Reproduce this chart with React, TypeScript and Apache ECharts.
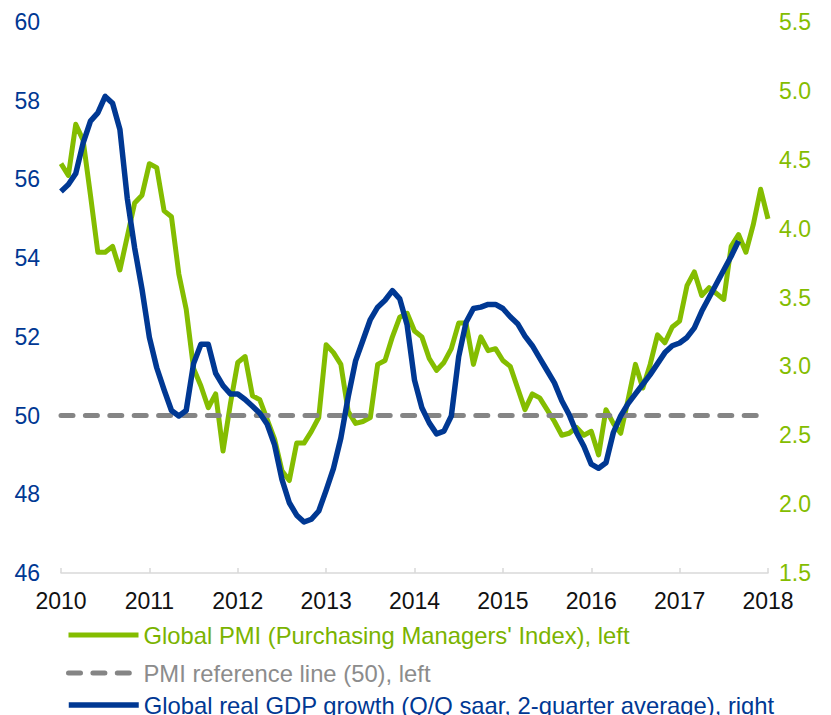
import React, { useEffect, useRef } from "react";
import * as echarts from "echarts";

// Monthly data, Jan 2010 onwards
const START_YEAR = 2010;
const PMI: number[] = [
  56.4, 56.1, 57.4, 57.0, 55.6, 54.15, 54.15, 54.3, 53.7, 54.55, 55.4, 55.6,
  56.4, 56.3, 55.2, 55.05, 53.6, 52.7, 51.2, 50.75, 50.2, 50.55, 49.1, 50.3,
  51.35, 51.5, 50.5, 50.4, 49.9, 49.4, 48.6, 48.35, 49.3, 49.3, 49.6, 49.95,
  51.8, 51.6, 51.3, 50.1, 49.8, 49.85, 49.95, 51.3, 51.4, 52.0, 52.5, 52.6,
  52.15, 52.0, 51.45, 51.15, 51.35, 51.7, 52.35, 52.35, 51.3, 52.0, 51.65, 51.7,
  51.4, 51.25, 50.7, 50.15, 50.55, 50.45, 50.15, 49.85, 49.5, 49.55, 49.7, 49.5,
  49.6, 49.0, 50.15, 49.8, 49.55, 50.4, 51.3, 50.7, 51.3, 52.05, 51.85, 52.25,
  52.4, 53.3, 53.65, 53.05, 53.25, 53.1, 52.95, 54.3, 54.6, 54.15, 54.85, 55.75,
  55.0,
];
const GDP: number[] = [
  4.27, 4.32, 4.4, 4.62, 4.78, 4.84, 4.96, 4.91, 4.72, 4.22, 3.86, 3.56,
  3.21, 2.99, 2.83, 2.68, 2.64, 2.68, 3.02, 3.16, 3.16, 2.95, 2.86, 2.8,
  2.8, 2.76, 2.71, 2.66, 2.58, 2.43, 2.18, 2.01, 1.92, 1.87, 1.89, 1.95,
  2.1, 2.26, 2.48, 2.78, 3.04, 3.19, 3.34, 3.43, 3.48, 3.55, 3.49, 3.3,
  2.9, 2.7, 2.59, 2.51, 2.53, 2.64, 3.07, 3.32, 3.42, 3.43, 3.45, 3.45,
  3.42, 3.36, 3.31, 3.22, 3.15, 3.06, 2.97, 2.88, 2.75, 2.65, 2.52, 2.42,
  2.29, 2.26, 2.3, 2.52, 2.64, 2.73, 2.8, 2.87, 2.94, 3.02, 3.1, 3.15,
  3.17, 3.21, 3.28, 3.4, 3.5, 3.6, 3.7, 3.8, 3.91,
];
const REF_LINE: number[] = [50, 50];
const REF_X: number[] = [2010, 2018];

const NAME_PMI = "Global PMI (Purchasing Managers' Index), left";
const NAME_REF = "PMI reference line (50), left";
const NAME_GDP = "Global real GDP growth (Q/Q saar, 2-quarter average), right";

const GREEN = "#84bd00";
const BLUE = "#003893";
const GRAY = "#858585";
const FONT = "'Liberation Sans', Arial, sans-serif";

export default function App() {
  const ref = useRef<HTMLDivElement>(null);
  useEffect(() => {
    document.body.style.margin = "0";
    if (!ref.current) return;
    const chart = echarts.init(ref.current, undefined, { renderer: "svg" });
    const monthX = (i: number) => START_YEAR + i / 12;
    const legendBase = {
      orient: "vertical" as const,
      left: 61,
      itemWidth: 70,
      itemHeight: 14,
      lineStyle: { width: "inherit" },
      itemStyle: { opacity: 0 },
      textStyle: { fontSize: 23.8, fontFamily: FONT },
      selectedMode: false,
    };
    chart.setOption({
      animation: false,
      textStyle: { fontFamily: FONT },
      grid: { left: 61, right: 63, top: 22, bottom: 142 },
      legend: [
        { ...legendBase, top: 618, data: [{ name: NAME_PMI, textStyle: { color: "#7ab300" } }] },
        { ...legendBase, top: 656, data: [{ name: NAME_REF, textStyle: { color: "#8c8c8c" } }] },
        { ...legendBase, top: 688, data: [{ name: NAME_GDP, textStyle: { color: BLUE } }] },
      ],
      xAxis: {
        type: "value",
        min: 2010,
        max: 2018,
        interval: 1,
        axisLine: { show: true, lineStyle: { color: "#d9d9d9", width: 1.5 } },
        axisTick: { show: true, inside: true, length: 5, lineStyle: { color: "#d9d9d9", width: 1.5 } },
        splitLine: { show: false },
        axisLabel: {
          color: "#111",
          fontSize: 23,
          margin: 16,
          fontFamily: FONT,
          formatter: (v: number) => String(Math.round(v)),
        },
      },
      yAxis: [
        {
          type: "value",
          min: 46,
          max: 60,
          interval: 2,
          axisLine: { show: false },
          axisTick: { show: false },
          splitLine: { show: false },
          axisLabel: { color: BLUE, fontSize: 23, margin: 21, fontFamily: FONT },
        },
        {
          type: "value",
          min: 1.5,
          max: 5.5,
          interval: 0.5,
          position: "right",
          axisLine: { show: false },
          axisTick: { show: false },
          splitLine: { show: false },
          axisLabel: {
            color: GREEN,
            fontSize: 23,
            margin: 11,
            fontFamily: FONT,
            formatter: (v: number) => v.toFixed(1),
          },
        },
      ],
      series: [
        {
          name: NAME_PMI,
          type: "line",
          yAxisIndex: 0,
          symbol: "none",
          data: PMI.map((v, i) => [monthX(i), v]),
          lineStyle: { color: GREEN, width: 5, join: "round" },
          itemStyle: { color: GREEN },
          z: 2,
        },
        {
          name: NAME_REF,
          type: "line",
          yAxisIndex: 0,
          symbol: "none",
          data: REF_LINE.map((v, i) => [REF_X[i], v]),
          lineStyle: { color: GRAY, width: 5, type: [12, 12.4], cap: "round" },
          itemStyle: { color: GRAY },
          z: 3,
        },
        {
          name: NAME_GDP,
          type: "line",
          yAxisIndex: 1,
          symbol: "none",
          data: GDP.map((v, i) => [monthX(i), v]),
          lineStyle: { color: BLUE, width: 5.5, join: "round" },
          itemStyle: { color: BLUE },
          z: 4,
        },
      ],
    });
    return () => chart.dispose();
  }, []);
  return <div ref={ref} style={{ width: 831, height: 715 }} />;
}
